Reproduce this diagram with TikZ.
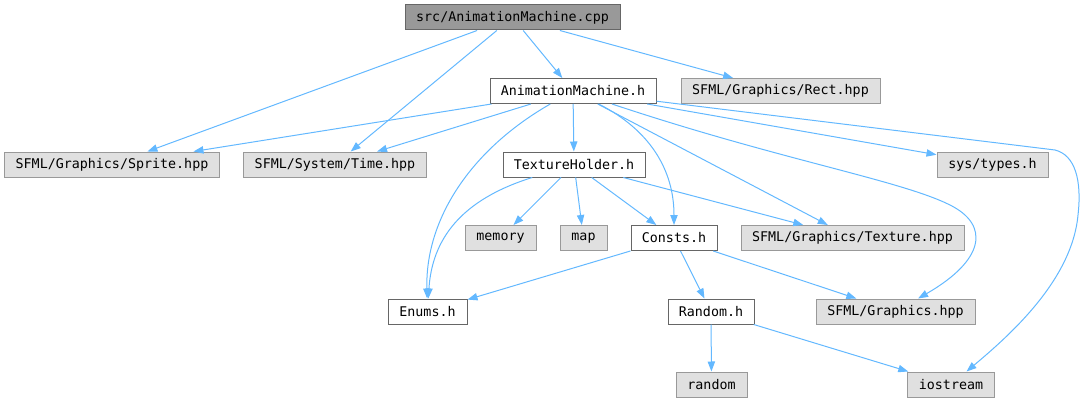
\documentclass[tikz,border=0pt]{standalone}
\usepackage{fontspec}
\setmonofont{DejaVu Sans Mono}
\usetikzlibrary{arrows.meta}
\definecolor{edgeblue}{HTML}{63B8FF}
\definecolor{grayfill}{HTML}{E0E0E0}
\definecolor{grayborder}{HTML}{999999}
\definecolor{darkborder}{HTML}{666666}
\definecolor{rootfill}{HTML}{999999}
\begin{document}
\begin{tikzpicture}[x=0.75pt,y=-0.75pt,
  box/.style={draw, line width=0.75pt, inner sep=0pt, minimum height=18.75pt,
              font=\ttfamily\fontsize{10}{12}\selectfont, text=black},
  gbox/.style={box, draw=grayborder, fill=grayfill},
  wbox/.style={box, draw=darkborder, fill=white},
  rootbox/.style={box, draw=darkborder, fill=rootfill},
  bw/.style={minimum width=#1*0.75pt},
  edge/.style={draw=edgeblue, line width=0.75pt, -{Triangle[length=7.5pt,width=5.5pt]}}]
\useasboundingbox (0,0) rectangle (1085,403);
% row 1
\node[rootbox, bw=215] (src) at (512.5,17.5) {src/AnimationMachine.cpp};
% row 2
\node[wbox, bw=166] (amh) at (573,91) {AnimationMachine.h};
\node[gbox, bw=199] (rect) at (780.5,91) {SFML/Graphics/Rect.hpp};
% row 3
\node[gbox, bw=215] (sprite) at (112,164.5) {SFML/Graphics/Sprite.hpp};
\node[gbox, bw=183] (time) at (335,164.5) {SFML/System/Time.hpp};
\node[wbox, bw=142] (texh) at (574,164.5) {TextureHolder.h};
\node[gbox, bw=111] (systypes) at (992.5,164.5) {sys/types.h};
% row 4
\node[gbox, bw=71] (memory) at (500.5,238) {memory};
\node[gbox, bw=47] (map) at (583.5,238) {map};
\node[wbox, bw=86] (consts) at (674,238) {Consts.h};
\node[gbox, bw=223] (texture) at (852.5,238) {SFML/Graphics/Texture.hpp};
% row 5
\node[wbox, bw=79] (enums) at (427.5,311.5) {Enums.h};
\node[wbox, bw=86] (randomh) at (711,311.5) {Random.h};
\node[gbox, bw=159] (graphics) at (895.5,311.5) {SFML/Graphics.hpp};
% row 6
\node[gbox, bw=71] (random) at (711.5,384.5) {random};
\node[gbox, bw=87] (iostream) at (951,384.5) {iostream};
% edges from src
\draw[edge] (src) -- (sprite);
\draw[edge] (src) -- (time);
\draw[edge] (src) -- (amh);
\draw[edge] (src) -- (rect);
% edges from AnimationMachine.h
\draw[edge] (amh) -- (sprite);
\draw[edge] (amh) -- (time);
\draw[edge] (amh) -- (texh);
\draw[edge] (amh) .. controls (470,150) and (425,220) .. (enums);
\draw[edge] (amh) .. controls (650,130) and (674,170) .. (consts);
\draw[edge] (amh) -- (texture);
\draw[edge] (amh) .. controls (780,160) and (900,180) .. (950,205)
                  .. controls (990,225) and (985,260) .. (graphics);
\draw[edge] (amh) -- (systypes);
\draw[edge] (amh) -- (1055,150) .. controls (1075,155) and (1082,180) .. (1078,215)
                  .. controls (1072,280) and (1010,335) .. (iostream);
% edges from TextureHolder.h
\draw[edge] (texh) .. controls (460,200) and (432,240) .. (enums);
\draw[edge] (texh) -- (memory);
\draw[edge] (texh) -- (map);
\draw[edge] (texh) -- (consts);
\draw[edge] (texh) -- (texture);
% edges from Consts.h
\draw[edge] (consts) -- (enums);
\draw[edge] (consts) -- (randomh);
\draw[edge] (consts) -- (graphics);
% edges from Random.h
\draw[edge] (randomh) -- (random);
\draw[edge] (randomh) -- (iostream);
\end{tikzpicture}
\end{document}
